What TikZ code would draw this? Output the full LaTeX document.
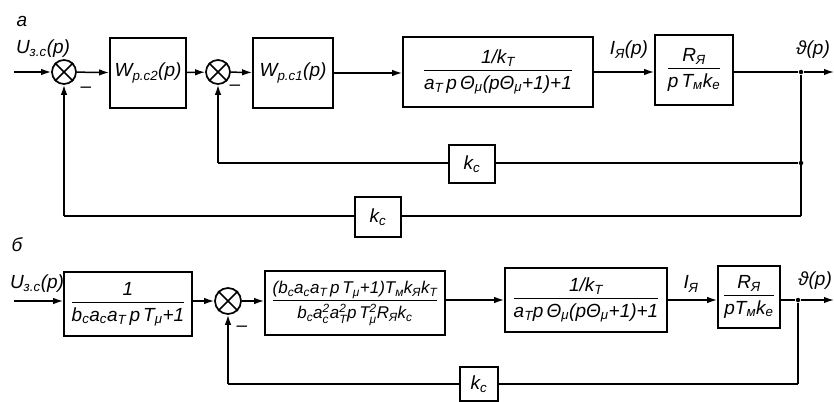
\documentclass[tikz,border=0pt]{standalone}
\usepackage{fontspec}
\usepackage{amsmath}
\setmainfont{Liberation Sans}
\usetikzlibrary{arrows.meta}
\newcommand\sbx[1]{\ensuremath{_{\text{#1}}}}
\newcommand\ssx[2]{\ensuremath{^{\text{#2}}_{\text{#1}}}}
\newcommand\frx[2]{{\setlength\arrayrulewidth{1.4pt}\begin{tabular}{@{}c@{}}#1\\[0pt]\hline\rule{0pt}{18pt}#2\end{tabular}}}
\begin{document}
\begin{tikzpicture}[x=1pt,y=-1pt,
  font=\fontsize{19}{21}\selectfont\itshape,
  line width=1.5pt,
  blk/.style={draw, rectangle, inner sep=0pt, line width=1.7pt},
  sumnode/.style={draw, circle, minimum size=24pt, inner sep=0pt, line width=1.7pt},
  arr/.style={-{Latex[length=10pt,width=6.5pt]}},
  lbl/.style={inner sep=0pt},
  dotn/.style={circle, fill, inner sep=0pt, minimum size=4.5pt}]
\useasboundingbox (0,0) rectangle (834,401);

% ---------------- row a ----------------
\node[lbl] (la) at (22,21) {а};
\coordinate (ina) at (14,72);
\node[sumnode] (s1) at (64,72) {};
\node[blk, minimum width=76pt, minimum height=70pt] (a1) at (148,73) {W\sbx{р.с2}(p)};
\node[sumnode] (s2) at (218,72) {};
\node[blk, minimum width=80pt, minimum height=70pt] (a2) at (293,73) {W\sbx{р.с1}(p)};
\node[blk, minimum width=190pt, minimum height=70pt] (a3) at (498,72) {\frx{1/k\sbx{T}}{a\sbx{T}\,p\,Θ\sbx{μ}(pΘ\sbx{μ}+1)+1}};
\node[blk, minimum width=78pt, minimum height=70pt] (a4) at (694,70) {\frx{R\sbx{Я}}{p\,T\sbx{м}k\sbx{e}}};
\node[dotn] (ja) at (801,72) {};
\coordinate (outa) at (834,72);
\node[dotn] (jai) at (801,163) {};
\coordinate (jao) at (801,216);
\node[blk, minimum width=46pt, minimum height=38pt] (kc1) at (472,164) {k\sbx{c}};
\node[blk, minimum width=46pt, minimum height=40pt] (kc2) at (378,217) {k\sbx{c}};
\coordinate (ci) at (218,163);
\coordinate (co) at (64,216);

\foreach \s in {s1,s2} {\draw[line width=1.5pt] (\s.north east) -- (\s.south west) (\s.north west) -- (\s.south east);}

\node[lbl] (lu) at (43,49) {U\sbx{з.с}(p)};
\node[lbl] (li) at (629,50) {I\sbx{Я}(p)};
\node[lbl] (lw) at (813,50) {ϑ(p)};
\node[lbl] (m1) at (86,90) {--};
\node[lbl] (m2) at (235,88) {--};

\draw[arr] (ina) -- (s1);
\draw[arr] (s1) -- (a1);
\draw[arr] (a1) -- (s2);
\draw[arr] (s2) -- (a2);
\draw[arr] (a2.east) -- (a2.east -| a3.west);
\draw[arr] (a3.east) -- (a3.east -| a4.west);
\draw (a4.east |- ja) -- (ja);
\draw[arr] (ja) -- (outa);
\draw (ja) -- (jao);
\draw (jai) -- (kc1.east |- jai);
\draw (kc1.west |- jai) -- (ci);
\draw[arr] (ci) -- (s2);
\draw (jao) -- (kc2.east |- jao);
\draw (kc2.west |- jao) -- (co);
\draw[arr] (co) -- (s1);

% ---------------- row b ----------------
\node[lbl] (lb) at (17,245) {б};
\coordinate (inb) at (14,301);
\node[blk, minimum width=128pt, minimum height=64pt] (b1) at (128,304) {\frx{1}{b\sbx{c}a\sbx{c}a\sbx{T}\,p\,T\sbx{μ}+1}};
\node[sumnode, minimum size=26pt] (s3) at (228,301) {};
\node[blk, minimum width=180pt, minimum height=64pt, font=\fontsize{17}{19}\selectfont\itshape] (b2) at (355,303) {\frx{(b\sbx{c}a\sbx{c}a\sbx{T}\,p\,T\sbx{μ}+1)T\sbx{м}k\sbx{Я}k\sbx{T}}{b\sbx{c}a\ssx{c}{2}a\ssx{T}{2}p\,T\ssx{μ}{2}R\sbx{Я}k\sbx{c}}};
\node[blk, minimum width=162pt, minimum height=64pt] (b3) at (586,300) {\frx{1/k\sbx{T}}{a\sbx{T}p\,Θ\sbx{μ}(pΘ\sbx{μ}+1)+1}};
\node[blk, minimum width=62pt, minimum height=62pt] (b4) at (749,297) {\frx{R\sbx{Я}}{pT\sbx{м}k\sbx{e}}};
\node[dotn] (jb) at (798,300) {};
\coordinate (outb) at (834,300);
\coordinate (jbo) at (798,384);
\node[blk, minimum width=38pt, minimum height=34pt] (kc3) at (479,384) {k\sbx{c}};
\coordinate (cb) at (228,384);

\draw[line width=1.5pt] (s3.north east) -- (s3.south west) (s3.north west) -- (s3.south east);

\node[lbl] (lub) at (37,284) {U\sbx{з.с}(p)};
\node[lbl] (lib) at (691,284) {I\sbx{Я}};
\node[lbl] (lwb) at (815,281) {ϑ(p)};
\node[lbl] (m3) at (242,329) {--};

\draw[arr] (inb) -- (inb -| b1.west);
\draw[arr] (b1.east |- s3) -- (s3);
\draw[arr] (s3) -- (s3 -| b2.west);
\draw[arr] (b2.east |- b3) -- (b3.west);
\draw[arr] (b3.east) -- (b3.east -| b4.west);
\draw (b4.east |- jb) -- (jb);
\draw[arr] (jb) -- (outb);
\draw (jb) -- (jbo);
\draw (jbo) -- (kc3.east |- jbo);
\draw (kc3.west |- jbo) -- (cb);
\draw[arr] (cb) -- (s3);
\end{tikzpicture}
\end{document}
